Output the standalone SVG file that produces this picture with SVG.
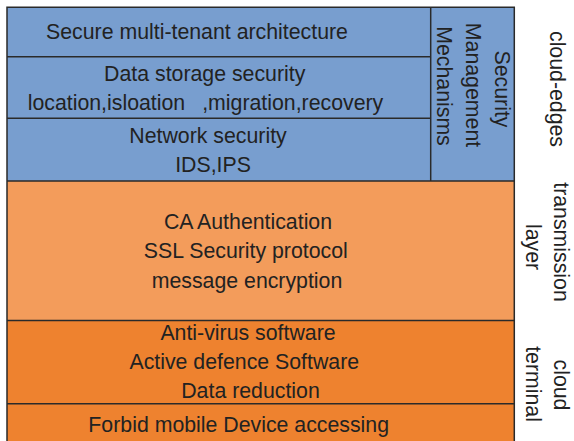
<svg xmlns="http://www.w3.org/2000/svg" width="574" height="441" viewBox="0 0 574 441">
<style>
text{font-family:"Liberation Sans",Arial,sans-serif;font-size:21.3px;fill:#222;text-anchor:middle}
.b{fill:#789ECF}
.lo{fill:#F39C5B}
.do{fill:#EE822F}
.ln{stroke:#2a2a2a;stroke-width:1.5;fill:none}
</style>
<rect x="0" y="0" width="574" height="441" fill="#fff"/>
<g id="cloud-edges">
<rect class="b" x="7" y="7" width="507" height="174"/>
<g id="secure-multi-tenant">
<text x="197" y="39.3">Secure multi-tenant architecture</text>
</g>
<g id="data-storage">
<text x="204.7" y="81">Data storage security</text>
<text x="205.5" y="110">location,isloation<tspan dx="17">,migration,recovery</tspan></text>
</g>
<g id="network-security">
<text x="208" y="142.7">Network security</text>
<text x="213" y="171.7">IDS,IPS</text>
</g>
<g id="security-management">
<text transform="translate(494.7,89) rotate(90)">Security</text>
<text transform="translate(466.4,85) rotate(90)">Management</text>
<text transform="translate(436.5,86) rotate(90)">Mechanisms</text>
</g>
</g>
<g id="transmission-layer">
<rect class="lo" x="7" y="181" width="507" height="139.5"/>
<text x="248" y="229.3">CA Authentication</text>
<text x="245.8" y="258.3">SSL Security protocol</text>
<text x="247" y="288.3">message encryption</text>
</g>
<g id="cloud-terminal">
<rect class="do" x="7" y="320.5" width="507" height="125"/>
<text x="248" y="340">Anti-virus software</text>
<text x="244.3" y="369.3">Active defence Software</text>
<text x="250.5" y="398.3">Data reduction</text>
<text x="238.7" y="431.7">Forbid mobile Device accessing</text>
</g>
<g id="lines">
<path class="ln" d="M7,445 V7.3 H514.3 V445" stroke="#3a3a3a"/>
<path class="ln" d="M7,56.7 H430.7 M7,118.3 H430.7 M430.7,7 V181 M7,181 H514.3 M7,320.5 H514.3 M7,403.7 H514.3"/>
</g>
<g id="side-labels">
<text transform="translate(549.5,89) rotate(90)">cloud-edges</text>
<text transform="translate(554,242) rotate(90)">transmission</text>
<text transform="translate(526.2,247) rotate(90)">layer</text>
<text transform="translate(554,385) rotate(90)">cloud</text>
<text transform="translate(526,384) rotate(90)">terminal</text>
</g>
</svg>
